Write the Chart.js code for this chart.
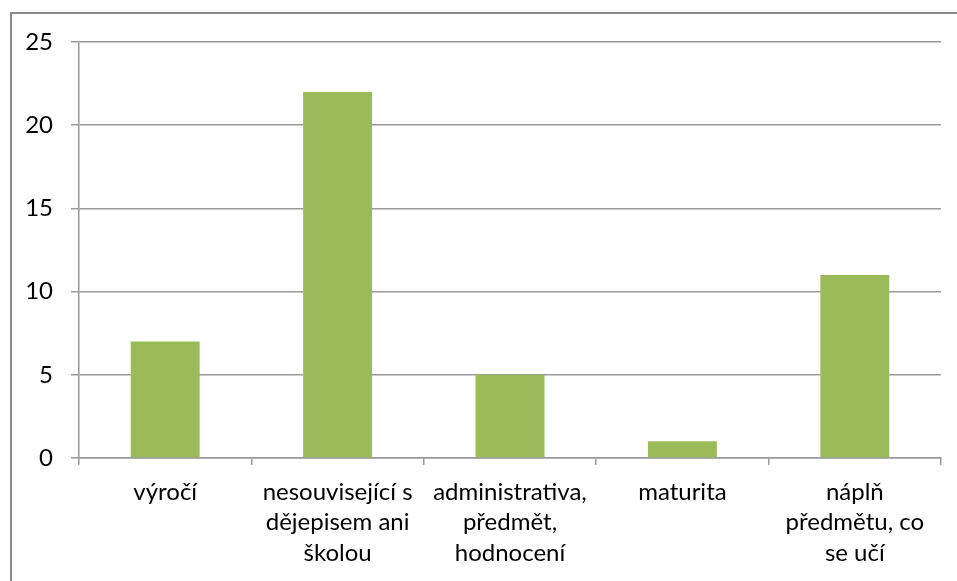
<!DOCTYPE html>
<html>
<head>
<meta charset="utf-8">
<script src="https://cdn.jsdelivr.net/npm/chart.js@4"></script>
<style>
    html, body { margin: 0; padding: 0; background: #fff; overflow: hidden; }
    #wrap { position: relative; width: 957px; height: 581px; }
    #frame {
        position: absolute; left: 10px; top: 12px; width: 2000px; height: 2000px;
        border-top: 2px solid #8a8a8a; border-left: 2px solid #8a8a8a;
        pointer-events: none;
    }
</style>
</head>
<body>
<div id="wrap">
    <canvas id="chart" width="957" height="581"></canvas>
    <div id="frame"></div>
</div>
<script>
// Data kategori dan nilai
const categories = [
    ['výročí'],
    ['nesouvisející s', 'dějepisem ani', 'školou'],
    ['administrativa,', 'předmět,', 'hodnocení'],
    ['maturita'],
    ['náplň', 'předmětu, co', 'se učí']
];
const values = [7, 22, 5, 1, 11];
const yTicks = [0, 5, 10, 15, 20, 25];

const gridColor = '#999999';
const textFont = { family: 'Lato, "Open Sans", sans-serif', size: 24, lineHeight: 1.27 };

const ctx = document.getElementById('chart').getContext('2d');
new Chart(ctx, {
    type: 'bar',
    data: {
        labels: categories,
        datasets: [{
            data: values,
            backgroundColor: '#9BBB59',
            borderWidth: 0,
            categoryPercentage: 1,
            barPercentage: 0.4
        }]
    },
    options: {
        responsive: false,
        animation: false,
        layout: { padding: { top: 42, right: 16, left: 0, bottom: 0 } },
        scales: {
            y: {
                min: yTicks[0],
                max: yTicks[yTicks.length - 1],
                afterFit: scale => { scale.width = 79; },
                afterBuildTicks: scale => { scale.ticks = yTicks.map(v => ({ value: v })); },
                ticks: { color: '#000', font: textFont, padding: 18 },
                grid: { color: gridColor, lineWidth: 1.5, tickLength: 8 },
                border: { color: gridColor, width: 1.5 }
            },
            x: {
                afterFit: scale => { scale.height = 123; },
                ticks: { color: '#000', font: textFont, padding: 12, maxRotation: 0, autoSkip: false },
                grid: { color: gridColor, lineWidth: 1.5, tickLength: 7, drawOnChartArea: false, offset: true },
                border: { color: gridColor, width: 1.5 }
            }
        },
        plugins: {
            legend: { display: false },
            tooltip: { enabled: false }
        }
    }
});
</script>
</body>
</html>
